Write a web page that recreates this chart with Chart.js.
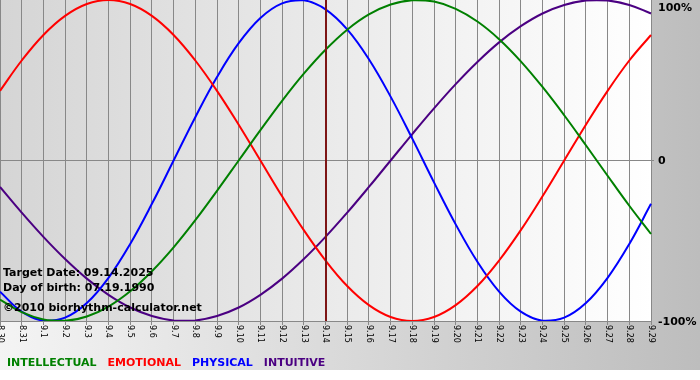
<!DOCTYPE html>
<html>
<head>
<meta charset="utf-8">
<script src="https://cdn.jsdelivr.net/npm/chart.js@4.4.1/dist/chart.umd.min.js"></script>
<style>
  html, body { margin: 0; padding: 0; background: #fff; }
  #wrap { width: 700px; height: 380px; }
</style>
</head>
<body>
<div id="wrap"><canvas id="bio" width="700" height="380"></canvas></div>
<script>
// days shown on the x axis (month.day)
const days = ['8.30', '8.31', '9.1', '9.2', '9.3', '9.4', '9.5', '9.6', '9.7', '9.8', '9.9',
    '9.10', '9.11', '9.12', '9.13', '9.14', '9.15', '9.16', '9.17', '9.18', '9.19', '9.20',
    '9.21', '9.22', '9.23', '9.24', '9.25', '9.26', '9.27', '9.28', '9.29'];

// cycle values in percent, one per day
const intellectual = [-86.6, -94.5, -99.0, -99.9, -97.2, -91.0, -81.5, -69.0, -54.1, -37.2, -18.9,
    0, 18.9, 37.2, 54.1, 69.0, 81.5, 91.0, 97.2, 99.9, 99.0, 94.5, 86.6, 75.6, 61.8, 45.8,
    28.2, 9.5, -9.5, -28.2, -45.8];
const emotional = [43.4, 62.3, 78.2, 90.1, 97.5, 100, 97.5, 90.1, 78.2, 62.3, 43.4,
    22.3, 0, -22.3, -43.4, -62.3, -78.2, -90.1, -97.5, -100, -97.5, -90.1, -78.2, -62.3, -43.4,
    -22.3, 0, 22.3, 43.4, 62.3, 78.2];
const physical = [-81.7, -94.2, -99.8, -97.9, -88.8, -73.1, -52.0, -27.0, 0, 27.0, 52.0,
    73.1, 88.8, 97.9, 99.8, 94.2, 81.7, 63.1, 39.8, 13.6, -13.6, -39.8, -63.1, -81.7, -94.2,
    -99.8, -97.9, -88.8, -73.1, -52.0, -27.0];
const intuitive = [-16.5, -32.5, -47.6, -61.4, -73.6, -83.7, -91.6, -96.9, -99.7, -99.7, -96.9,
    -91.6, -83.7, -73.6, -61.4, -47.6, -32.5, -16.5, 0, 16.5, 32.5, 47.6, 61.4, 73.6, 83.7,
    91.6, 96.9, 99.7, 99.7, 96.9, 91.6];

const yTicks = [100, 0, -100];
const targetDay = '9.14';
const infoLines = ['Target Date: 09.14.2025', 'Day of birth: 07.19.1990', '\u00a92010 biorhythm-calculator.net'];

const BOLD = 'bold 11px "DejaVu Sans"';

// backgrounds behind the plot
const backdrop = {
    id: 'backdrop',
    beforeDraw(chart) {
        const { ctx, chartArea: a } = chart;
        ctx.save();
        ctx.fillStyle = '#fff';
        ctx.fillRect(0, 0, chart.width, chart.height);
        let g = ctx.createLinearGradient(0, 0, chart.width, 0);
        g.addColorStop(0, '#f4f4f4');
        g.addColorStop(1, '#bdbdbd');
        ctx.fillStyle = g;
        ctx.fillRect(0, 0, chart.width, 370);
        g = ctx.createLinearGradient(a.left, 0, a.right, 0);
        g.addColorStop(0, '#d5d5d5');
        g.addColorStop(1, '#ffffff');
        ctx.fillStyle = g;
        ctx.fillRect(a.left, a.top, a.right - a.left, a.bottom - a.top);
        ctx.restore();
    }
};

// day labels, percent labels, target marker, info text and legend
const decorations = {
    id: 'decorations',
    afterDatasetsDraw(chart) {
        const { ctx, chartArea: a } = chart;
        const x = chart.scales.x, y = chart.scales.y;
        ctx.save();

        // target day marker
        const tx = Math.round(x.getPixelForValue(days.indexOf(targetDay)));
        ctx.strokeStyle = '#7d1515';
        ctx.lineWidth = 2;
        ctx.beginPath();
        ctx.moveTo(tx, a.top);
        ctx.lineTo(tx, a.bottom);
        ctx.stroke();

        // day labels, rotated clockwise
        ctx.fillStyle = '#000';
        ctx.font = '8px "DejaVu Sans"';
        ctx.textAlign = 'left';
        ctx.textBaseline = 'middle';
        days.forEach((d, i) => {
            const px = x.getPixelForValue(i);
            ctx.save();
            ctx.translate(px, a.bottom + 4);
            ctx.rotate(Math.PI / 2);
            ctx.fillText(d, 0, 0);
            ctx.restore();
        });

        // percent labels on the right
        ctx.font = BOLD;
        yTicks.forEach(v => {
            const py = Math.max(y.getPixelForValue(v), 7);
            ctx.fillText(v === 0 ? '0' : v + '%', a.right + 7, py + 1);
        });

        // info text
        ctx.textBaseline = 'alphabetic';
        [276, 291, 311].forEach((by, i) => ctx.fillText(infoLines[i], 3, by));

        // legend
        let lx = 7;
        chart.data.datasets.forEach(ds => {
            const t = ds.label.toUpperCase();
            ctx.fillStyle = ds.borderColor;
            ctx.fillText(t, lx, 366);
            lx += ctx.measureText(t).width + 11;
        });
        ctx.restore();
    }
};

new Chart(document.getElementById('bio'), {
    type: 'line',
    data: {
        labels: days,
        datasets: [
            { label: 'Intellectual', data: intellectual, borderColor: '#008000' },
            { label: 'Emotional', data: emotional, borderColor: '#ff0000' },
            { label: 'Physical', data: physical, borderColor: '#0000ff' },
            { label: 'Intuitive', data: intuitive, borderColor: '#4b0082' }
        ]
    },
    options: {
        responsive: false,
        animation: false,
        layout: { padding: 0 },
        elements: {
            line: { borderWidth: 2, tension: 0.4, fill: false },
            point: { radius: 0 }
        },
        plugins: {
            legend: { display: false },
            tooltip: { enabled: false }
        },
        scales: {
            x: {
                offset: false,
                ticks: { display: false },
                grid: { color: '#888', lineWidth: 1, tickLength: 4 },
                border: { color: '#888' },
                afterFit: s => { s.height = 59; }
            },
            y: {
                position: 'right',
                min: -100,
                max: 100,
                ticks: { display: false, stepSize: 100 },
                grid: {
                    color: c => c.tick && c.tick.value === 0 ? '#888' : 'rgba(0,0,0,0)',
                    tickLength: 3
                },
                border: { display: false },
                afterFit: s => { s.width = 49; }
            }
        }
    },
    plugins: [backdrop, decorations]
});
</script>
</body>
</html>
